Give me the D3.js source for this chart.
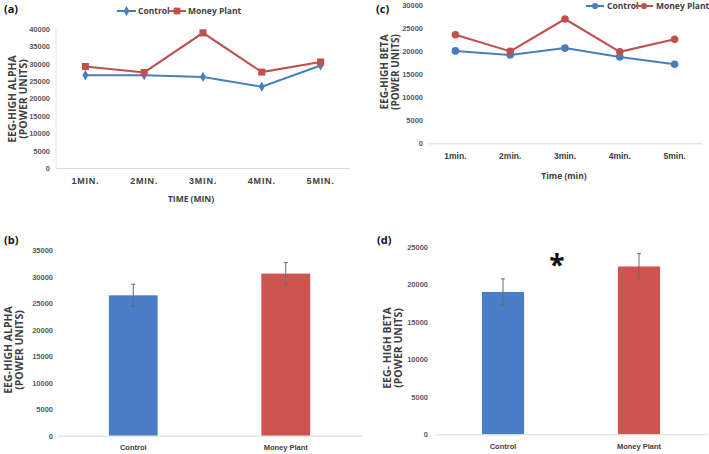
<!DOCTYPE html>
<html>
<head>
<meta charset="utf-8">
<script src="https://cdn.jsdelivr.net/npm/d3@7"></script>
<style>
  body { margin: 0; background: #fff; }
  svg { display: block; font-family: "Open Sans", sans-serif; }
</style>
</head>
<body>
<div id="chart"></div>
<script>
// data
const timeLabelsA = ["1MIN.", "2MIN.", "3MIN.", "4MIN.", "5MIN."];
const alphaControl = [26700, 26700, 26200, 23400, 29500];
const alphaPlant = [29200, 27500, 38900, 27600, 30500];

const timeLabelsC = ["1min.", "2min.", "3min.", "4min.", "5min."];
const betaControl = [20000, 19100, 20600, 18700, 17100];
const betaPlant = [23500, 19900, 26900, 19800, 22500];

const groups = ["Control", "Money Plant"];
const alphaMeans = [26500, 30600];
const alphaErr = [2100, 2100];
const betaMeans = [19000, 22400];
const betaErr = [1750, 1750];

const BLUE = "#4a7ebb";
const RED = "#c0504d";
const BAR_BLUE = "#4a7ec6";
const BAR_RED = "#cf5350";

const svg = d3.select("#chart").append("svg")
    .attr("width", 709)
    .attr("height", 454);

svg.append("rect").attr("width", 709).attr("height", 454).attr("fill", "#fff");

function yAxis(y, x0, pad, max) {
    const ax = svg.append("g")
        .attr("transform", `translate(${x0},0)`)
        .call(d3.axisLeft(y)
            .tickValues(d3.range(0, max + 1, 5000))
            .tickFormat(d3.format("d"))
            .tickSize(0)
            .tickPadding(pad));
    ax.select(".domain").remove();
    ax.selectAll("text")
        .style("font-size", "7.5px")
        .style("font-weight", "bold")
        .style("fill", "#595959");
    return ax;
}

function xAxis(x, yPos, pad, size, spacing) {
    const ax = svg.append("g")
        .attr("transform", `translate(0,${yPos})`)
        .call(d3.axisBottom(x).tickSize(0).tickPadding(pad));
    ax.select(".domain").attr("stroke", "#d9d9d9").attr("stroke-width", 1);
    ax.selectAll("text")
        .style("font-size", size)
        .style("font-weight", "bold")
        .style("letter-spacing", spacing)
        .style("fill", "#404040");
    return ax;
}

function yTitle(lines, xs, cy, size) {
    lines.forEach((t, i) => {
        svg.append("text")
            .attr("transform", `translate(${xs[i]},${cy}) rotate(-90)`)
            .attr("text-anchor", "middle")
            .attr("dy", "0.35em")
            .style("font-size", size)
            .style("font-weight", "bold")
            .style("fill", "#404040")
            .text(t);
    });
}

function panelLabel(t, x, y) {
    svg.append("text")
        .attr("x", x).attr("y", y)
        .attr("dy", "0.35em")
        .style("font-size", "11px")
        .style("font-weight", "bold")
        .style("fill", "#111")
        .text(t);
}

function legend(items, y) {
    items.forEach(it => {
        svg.append("line")
            .attr("x1", it.x1).attr("x2", it.x2)
            .attr("y1", y).attr("y2", y)
            .attr("stroke", it.color).attr("stroke-width", 2);
        svg.append("path")
            .attr("d", d3.symbol().type(it.symbol).size(it.size)())
            .attr("transform", `translate(${(it.x1 + it.x2) / 2},${y})`)
            .attr("fill", it.color);
        svg.append("text")
            .attr("x", it.tx).attr("y", y)
            .attr("dy", "0.35em")
            .style("font-size", "8.5px")
            .style("font-weight", "bold")
            .style("fill", "#404040")
            .text(it.label);
    });
}

function series(x, y, labels, values, color, symbol, size) {
    const pts = labels.map((l, i) => [x(l) + x.bandwidth() / 2, y(values[i])]);
    svg.append("path")
        .attr("d", d3.line()(pts))
        .attr("fill", "none")
        .attr("stroke", color)
        .attr("stroke-width", 2);
    svg.append("g").selectAll("path")
        .data(pts)
        .join("path")
        .attr("d", d3.symbol().type(symbol).size(size)())
        .attr("transform", d => `translate(${d[0]},${d[1]})`)
        .attr("fill", color);
}

// ---- (a) high alpha line chart
{
    const x = d3.scaleBand().domain(timeLabelsA).range([56, 350]);
    const y = d3.scaleLinear().domain([0, 40000]).range([168, 29]);
    svg.append("line")
        .attr("x1", 56).attr("x2", 56).attr("y1", 27).attr("y2", 168)
        .attr("stroke", "#e6e6e6");
    yAxis(y, 56, 6, 40000);
    xAxis(x, 168, 10, "9px", "0.8px");
    series(x, y, timeLabelsA, alphaControl, BLUE, d3.symbolDiamond, 30);
    series(x, y, timeLabelsA, alphaPlant, RED, d3.symbolSquare, 50);
    svg.append("text")
        .attr("x", 191).attr("y", 199).attr("dy", "0.35em")
        .attr("text-anchor", "middle")
        .style("font-size", "8.5px").style("font-weight", "bold").style("fill", "#404040")
        .text("TIME (MIN)");
    yTitle(["EEG-HIGH ALPHA", "(POWER UNITS)"], [12, 23], 99, "10.5px");
    panelLabel("(a)", 4, 9);
    legend([
        { x1: 117, x2: 136, tx: 138, color: BLUE, symbol: d3.symbolDiamond, size: 30, label: "Control" },
        { x1: 168, x2: 186, tx: 188, color: RED, symbol: d3.symbolSquare, size: 45, label: "Money Plant" }
    ], 11);
}

// ---- (c) high beta line chart
{
    const x = d3.scaleBand().domain(timeLabelsC).range([428, 702]);
    const y = d3.scaleLinear().domain([0, 30000]).range([143.3, 4.7]);
    yAxis(y, 428, 5, 30000);
    xAxis(x, 143.3, 10, "8.5px", "0px");
    series(x, y, timeLabelsC, betaControl, BLUE, d3.symbolCircle, 45);
    series(x, y, timeLabelsC, betaPlant, RED, d3.symbolCircle, 45);
    svg.append("text")
        .attr("x", 564).attr("y", 176).attr("dy", "0.35em")
        .attr("text-anchor", "middle")
        .style("font-size", "8.5px").style("font-weight", "bold").style("fill", "#404040")
        .text("Time (min)");
    yTitle(["EEG-HIGH BETA", "(POWER UNITS)"], [384, 395], 72, "10px");
    panelLabel("(c)", 376, 9);
    legend([
        { x1: 586, x2: 604, tx: 607, color: BLUE, symbol: d3.symbolCircle, size: 30, label: "Control" },
        { x1: 635, x2: 653, tx: 656, color: RED, symbol: d3.symbolCircle, size: 30, label: "Money Plant" }
    ], 6);
}

function bars(x, y, yBase, means, errs, frac) {
    const colors = [BAR_BLUE, BAR_RED];
    const w = x.bandwidth() * frac;
    groups.forEach((g, i) => {
        const cx = x(g) + x.bandwidth() / 2;
        svg.append("rect")
            .attr("x", cx - w / 2)
            .attr("y", y(means[i]))
            .attr("width", w)
            .attr("height", yBase - y(means[i]))
            .attr("fill", colors[i]);
        svg.append("line")
            .attr("x1", cx).attr("x2", cx)
            .attr("y1", y(means[i] + errs[i])).attr("y2", y(means[i] - errs[i]))
            .attr("stroke", "#6b6b6b").attr("stroke-width", 1);
        svg.append("line")
            .attr("x1", cx - 2).attr("x2", cx + 2)
            .attr("y1", y(means[i] + errs[i])).attr("y2", y(means[i] + errs[i]))
            .attr("stroke", "#6b6b6b").attr("stroke-width", 1);
        svg.append("line")
            .attr("x1", cx - 2).attr("x2", cx + 2)
            .attr("y1", y(means[i] - errs[i])).attr("y2", y(means[i] - errs[i]))
            .attr("stroke", "#6b6b6b").attr("stroke-width", 1);
    });
}

// ---- (b) high alpha bars
{
    const x = d3.scaleBand().domain(groups).range([57, 362]);
    const y = d3.scaleLinear().domain([0, 35000]).range([435.7, 250.3]);
    yAxis(y, 57, 4, 35000);
    bars(x, y, 435.7, alphaMeans, alphaErr, 0.32);
    xAxis(x, 435.7, 9, "7.5px", "0px");
    yTitle(["EEG-HIGH ALPHA", "(POWER UNITS)"], [8, 19], 350, "10.5px");
    panelLabel("(b)", 4, 240);
}

// ---- (d) high beta bars
{
    const x = d3.scaleBand().domain(groups).range([435, 707]);
    const y = d3.scaleLinear().domain([0, 25000]).range([434.3, 247]);
    yAxis(y, 435, 7, 25000);
    bars(x, y, 434.3, betaMeans, betaErr, 0.31);
    xAxis(x, 434.3, 9, "7.5px", "0px");
    yTitle(["EEG- HIGH BETA", "(POWER UNITS)"], [387, 398], 348, "10.5px");
    panelLabel("(d)", 377, 240);
    svg.append("text")
        .attr("x", 557).attr("y", 275)
        .attr("text-anchor", "middle")
        .style("font-size", "28px")
        .style("font-weight", "bold")
        .style("fill", "#111")
        .text("*");
}
</script>
</body>
</html>
